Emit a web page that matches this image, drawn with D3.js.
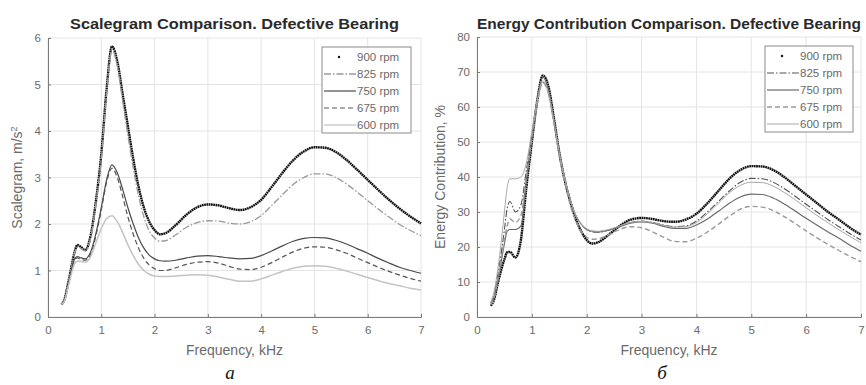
<!DOCTYPE html>
<html>
<head>
<meta charset="utf-8">
<script src="https://cdn.jsdelivr.net/npm/d3@7"></script>
<style>
  body { margin: 0; background: #fff; }
  svg { display: block; font-family: "Liberation Sans", Arial, sans-serif; }
</style>
</head>
<body>
<script>
// frequency grid, kHz
var freqKHz = [0.25, 0.3, 0.4, 0.5, 0.55, 0.6, 0.7, 0.8, 0.9, 1.0, 1.1, 1.2, 1.3, 1.4, 1.5, 1.6, 1.7, 1.8, 1.9, 2.0,
  2.1, 2.2, 2.4, 2.6, 2.8, 3.0, 3.2, 3.4, 3.6, 3.8, 4.0, 4.2, 4.4, 4.6, 4.8, 5.0, 5.2, 5.4, 5.6, 5.8, 6.0, 6.2, 6.4, 6.6, 6.8, 7.0];

var rpmLabels = ["900 rpm", "825 rpm", "750 rpm", "675 rpm", "600 rpm"];

// (a) scalegram, m/s^2
var scal900 = [0.27, 0.35, 0.85, 1.4, 1.55, 1.52, 1.44, 1.75, 2.5, 3.5, 4.9, 5.82, 5.5, 4.8, 4.1, 3.4, 2.8, 2.35, 2.05, 1.87,
  1.78, 1.8, 1.98, 2.2, 2.36, 2.42, 2.4, 2.34, 2.3, 2.36, 2.52, 2.8, 3.1, 3.37, 3.56, 3.65, 3.64, 3.55, 3.38, 3.17, 2.95, 2.73, 2.52, 2.33, 2.16, 2.01];
var scal825 = [0.28, 0.35, 0.85, 1.38, 1.5, 1.48, 1.42, 1.7, 2.45, 3.4, 4.8, 5.75, 5.4, 4.65, 3.9, 3.2, 2.6, 2.15, 1.85, 1.7,
  1.63, 1.64, 1.77, 1.93, 2.03, 2.07, 2.06, 2.02, 2.0, 2.05, 2.18, 2.4, 2.63, 2.85, 3.0, 3.08, 3.08, 3.0, 2.86, 2.69, 2.5, 2.32, 2.15, 1.99, 1.86, 1.75];
var scal750 = [0.27, 0.33, 0.8, 1.25, 1.3, 1.28, 1.25, 1.4, 1.8, 2.35, 2.95, 3.27, 3.1, 2.75, 2.35, 2.0, 1.7, 1.48, 1.33, 1.25,
  1.21, 1.2, 1.22, 1.27, 1.31, 1.32, 1.3, 1.27, 1.25, 1.26, 1.32, 1.42, 1.53, 1.63, 1.69, 1.71, 1.7, 1.65, 1.57, 1.47, 1.37, 1.26, 1.16, 1.07, 1.0, 0.94];
var scal675 = [0.27, 0.33, 0.78, 1.22, 1.27, 1.25, 1.22, 1.35, 1.75, 2.3, 2.9, 3.2, 3.0, 2.6, 2.15, 1.78, 1.48, 1.26, 1.12, 1.04,
  1.0, 1.0, 1.06, 1.13, 1.18, 1.19, 1.16, 1.09, 1.03, 1.02, 1.07, 1.17, 1.29, 1.4, 1.48, 1.51, 1.5, 1.45, 1.37, 1.27, 1.17, 1.07, 0.98, 0.9, 0.83, 0.77];
var scal600 = [0.27, 0.32, 0.75, 1.15, 1.2, 1.2, 1.18, 1.3, 1.6, 1.9, 2.12, 2.18, 2.05, 1.82, 1.55, 1.32, 1.13, 1.0, 0.92, 0.88,
  0.87, 0.87, 0.88, 0.9, 0.91, 0.9, 0.86, 0.81, 0.77, 0.77, 0.82, 0.9, 0.98, 1.05, 1.09, 1.1, 1.09, 1.05, 0.99, 0.92, 0.85, 0.78, 0.72, 0.67, 0.62, 0.58];

// (б) energy contribution, %
var energy900 = [3.2, 4.5, 11, 16.5, 18.5, 18.6, 17, 22, 37, 50, 62, 69, 66, 57, 47, 39, 33, 28, 24.5, 22,
  21, 21.3, 23.5, 26, 27.8, 28.3, 28, 27.4, 27.2, 27.8, 29.5, 32.5, 36, 39.5, 42, 43.1, 43, 42, 40, 37.5, 35, 32.5, 30, 27.8, 25.5, 23.5];
var energy825 = [4, 6, 14, 25, 31, 33, 30, 32, 42, 52, 62, 67, 64, 56, 47, 39.5, 33.5, 29, 26.5, 25,
  24.3, 24.2, 24.8, 26, 27, 27.4, 27, 26.3, 25.8, 26, 27.4, 30, 33, 36, 38.5, 39.6, 39.5, 38.5, 36.7, 34.5, 32.2, 30, 27.8, 25.8, 23.8, 22];
var energy750 = [3.5, 5, 12, 21, 24.5, 25, 25, 26, 39, 51, 62, 68.5, 65, 56.5, 47, 39.5, 33.5, 29, 26.5, 25,
  24.5, 24.3, 24.8, 25.8, 26.8, 27.2, 26.8, 25.9, 25.3, 25.3, 26.3, 28, 30.2, 32.5, 34.3, 35.1, 35, 34, 32.3, 30.3, 28.2, 26.2, 24.3, 22.5, 20.5, 18.8];
var energy675 = [3.5, 5, 12.5, 22, 26, 28, 27, 29, 40, 51, 61, 67, 64, 55.5, 46, 38.5, 32, 27.5, 24.5, 22.8,
  22.2, 22.3, 23.5, 25, 25.8, 25.5, 24.3, 22.8, 21.6, 21.5, 22.5, 24.3, 26.5, 28.8, 30.8, 31.6, 31.4, 30.4, 28.7, 26.7, 24.6, 22.6, 20.7, 19, 17.3, 15.8];
var energy600 = [4, 6.5, 16, 30, 37, 39.5, 39.5, 40, 44, 53, 62, 67.5, 64, 56, 47, 39.5, 33.5, 29, 26.5, 25.2,
  24.6, 24.5, 25, 26, 27, 27.3, 27, 26.2, 25.7, 25.8, 27, 29.5, 32.5, 35.5, 37.6, 38.5, 38.4, 37.4, 35.6, 33.5, 31.2, 29, 26.9, 24.9, 23, 21.2];

var xTicks = [0, 1, 2, 3, 4, 5, 6, 7];
var scalTicks = [0, 1, 2, 3, 4, 5, 6];
var energyTicks = [0, 10, 20, 30, 40, 50, 60, 70, 80];

var W = 866, H = 385;
var svg = d3.select("body").append("svg").attr("width", W).attr("height", H);

function drawChart(cfg) {
  var x = d3.scaleLinear().domain([0, 7]).range([cfg.left, cfg.right]);
  var y = d3.scaleLinear().domain([0, cfg.ymax]).range([cfg.bottom, cfg.top]);
  var g = svg.append("g");

  // grid
  g.append("g").selectAll("line").data(xTicks).join("line")
    .attr("x1", d => x(d)).attr("x2", d => x(d))
    .attr("y1", cfg.top).attr("y2", cfg.bottom)
    .attr("stroke", "#e4e4e4").attr("stroke-width", 1);
  g.append("g").selectAll("line").data(cfg.yTicks).join("line")
    .attr("x1", cfg.left).attr("x2", cfg.right)
    .attr("y1", d => y(d)).attr("y2", d => y(d))
    .attr("stroke", "#e4e4e4").attr("stroke-width", 1);

  // axes
  var xAxis = g.append("g").attr("transform", "translate(0," + cfg.bottom + ")")
    .call(d3.axisBottom(x).tickValues(xTicks).tickFormat(d3.format("d")).tickSize(-3).tickPadding(9));
  var yAxis = g.append("g").attr("transform", "translate(" + cfg.left + ",0)")
    .call(d3.axisLeft(y).tickValues(cfg.yTicks).tickFormat(d3.format("d")).tickSize(-3).tickPadding(7));
  [xAxis, yAxis].forEach(function (a) {
    a.select(".domain").attr("stroke", "#7a7a7a");
    a.selectAll(".tick line").attr("stroke", "#7a7a7a");
    a.selectAll(".tick text").attr("fill", "#6a6a6a").style("font-size", "11.5px")
      .style("font-family", "Liberation Sans, Arial, sans-serif");
  });

  // series
  var line = d3.line()
    .x((d, i) => x(freqKHz[i]))
    .y(d => y(d))
    .curve(d3.curveMonotoneX);
  cfg.series.forEach(function (s, k) {
    var st = cfg.styles[k];
    g.append("path").datum(s)
      .attr("d", line)
      .attr("fill", "none")
      .attr("stroke", st.color)
      .attr("stroke-width", st.width)
      .attr("stroke-dasharray", st.dash)
      .attr("stroke-linejoin", "round");
  });

  // titles
  g.append("text").attr("x", (cfg.left + cfg.right) / 2).attr("y", 29)
    .attr("text-anchor", "middle").attr("font-weight", "bold")
    .attr("fill", "#2a2a2a").style("font-size", "14px")
    .attr("textLength", cfg.titleWidth).attr("lengthAdjust", "spacingAndGlyphs")
    .text(cfg.title);
  g.append("text").attr("x", (cfg.left + cfg.right) / 2).attr("y", 355)
    .attr("text-anchor", "middle").attr("fill", "#6a6a6a").style("font-size", "14px")
    .text("Frequency, kHz");
  var yl = g.append("text")
    .attr("transform", "translate(" + cfg.ylabelX + "," + ((cfg.top + cfg.bottom) / 2) + ") rotate(-90)")
    .attr("text-anchor", "middle").attr("fill", "#6a6a6a").style("font-size", "14px")
    .text(cfg.ylabel);
  if (cfg.ysup) yl.append("tspan").attr("dy", -5).style("font-size", "9px").text(cfg.ysup);

  // sub-label
  g.append("text").attr("x", cfg.subX).attr("y", 379)
    .attr("text-anchor", "middle").attr("font-style", "italic")
    .style("font-family", "Liberation Serif, Times New Roman, serif").style("font-size", "19px")
    .attr("fill", "#111").text(cfg.sub);

  // legend
  var lg = g.append("g").attr("transform", "translate(" + cfg.legX + "," + cfg.legY + ")");
  lg.append("rect").attr("width", cfg.legW).attr("height", 86)
    .attr("fill", "#fff").attr("stroke", "#8a8a8a").attr("stroke-width", 1);
  rpmLabels.forEach(function (lab, k) {
    var st = cfg.styles[k];
    var yy = 10 + k * 17;
    if (k === 0) {
      lg.append("circle").attr("cx", 17).attr("cy", yy).attr("r", 1.2).attr("fill", "#111");
    } else {
      lg.append("line").attr("x1", 2).attr("x2", 34).attr("y1", yy).attr("y2", yy)
        .attr("stroke", st.color).attr("stroke-width", Math.min(st.width, 1.3))
        .attr("stroke-dasharray", st.dash);
    }
    lg.append("text").attr("x", 35).attr("y", yy + 4).attr("fill", "#6a6a6a")
      .style("font-size", "11.5px").text(lab);
  });
}

drawChart({
  left: 48, right: 421, top: 38, bottom: 317, ymax: 6, yTicks: scalTicks,
  series: [scal900, scal825, scal750, scal675, scal600],
  styles: [
    { color: "#111", width: 2.4, dash: "1.8,0.5" },
    { color: "#9a9a9a", width: 1.3, dash: "7,2,1.5,2" },
    { color: "#4a4a4a", width: 1.2, dash: null },
    { color: "#555", width: 1.2, dash: "5,3" },
    { color: "#c4c4c4", width: 1.5, dash: null }
  ],
  title: "Scalegram Comparison. Defective Bearing", titleWidth: 329,
  ylabel: "Scalegram, m/s", ysup: "2", ylabelX: 22,
  sub: "а", subX: 230,
  legX: 322, legY: 47, legW: 89
});

drawChart({
  left: 477, right: 861, top: 37, bottom: 317, ymax: 80, yTicks: energyTicks,
  series: [energy900, energy825, energy750, energy675, energy600],
  styles: [
    { color: "#111", width: 2.4, dash: "1.8,0.5" },
    { color: "#555", width: 1.1, dash: "7,2,1.5,2" },
    { color: "#6a6a6a", width: 1.2, dash: null },
    { color: "#9a9a9a", width: 1.4, dash: "5,3" },
    { color: "#a8a8a8", width: 1.0, dash: null }
  ],
  title: "Energy Contribution Comparison. Defective Bearing", titleWidth: 384,
  ylabel: "Energy Contribution, %", ysup: null, ylabelX: 445,
  sub: "б", subX: 662,
  legX: 765, legY: 46, legW: 88
});
</script>
</body>
</html>
